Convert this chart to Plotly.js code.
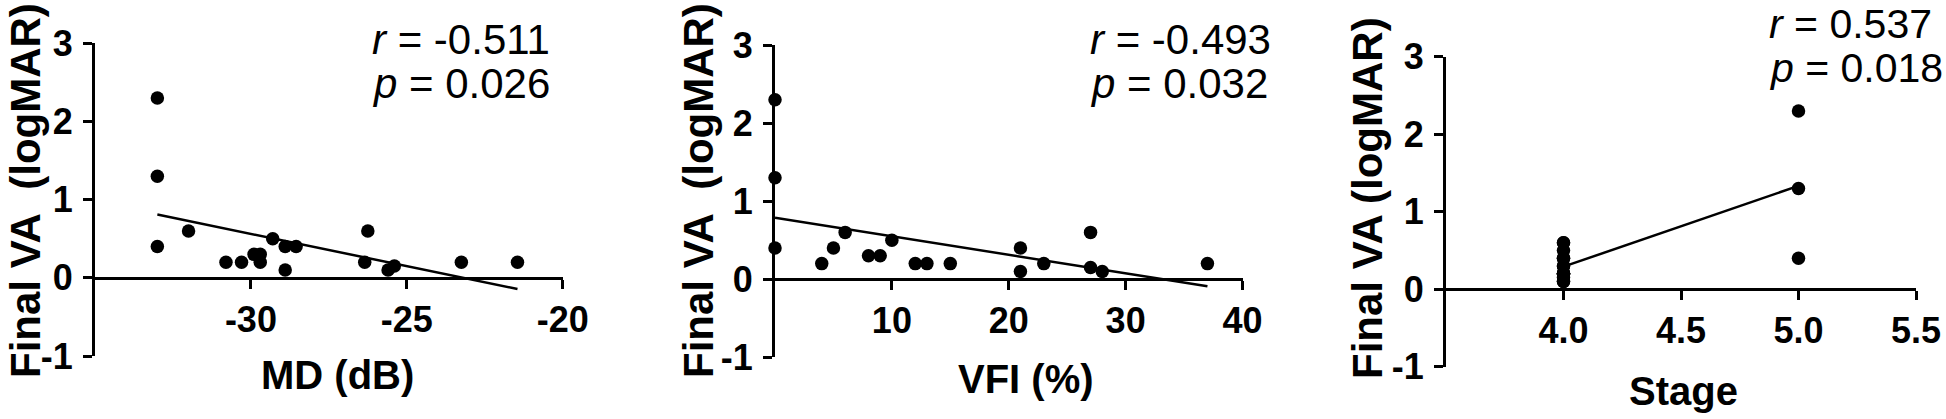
<!DOCTYPE html>
<html><head><meta charset="utf-8">
<script src="https://cdn.plot.ly/plotly-3.0.1.min.js"></script>
<style>html,body{margin:0;padding:0;background:#fff}#chart{width:1946px;height:419px}</style>
</head><body><div id="chart"></div>
<script>
// ---- data ----
const mdValues = [-33, -33, -33, -32, -30.8, -30.3, -29.9, -29.7, -29.7, -29.3, -28.9, -28.9, -28.55, -26.25, -26.35, -25.6, -25.4, -23.25, -21.45];
const vaByMD   = [2.3, 1.3, 0.4, 0.6, 0.2, 0.2, 0.3, 0.3, 0.2, 0.5, 0.4, 0.1, 0.4, 0.6, 0.2, 0.1, 0.15, 0.2, 0.2];

const vfiValues = [0, 0, 0, 4, 5, 6, 8, 9, 10, 12, 13, 15, 21, 21, 23, 27, 27, 28, 37];
const vaByVFI   = [2.3, 1.3, 0.4, 0.2, 0.4, 0.6, 0.3, 0.3, 0.5, 0.2, 0.2, 0.2, 0.4, 0.1, 0.2, 0.6, 0.15, 0.1, 0.2];

const stageValues = [5, 5, 5, 4, 4, 4, 4, 4, 4, 4, 4, 4, 4, 4, 4, 4, 4, 4, 4];
const vaByStage   = [2.3, 1.3, 0.4, 0.6, 0.2, 0.2, 0.3, 0.3, 0.2, 0.5, 0.4, 0.1, 0.4, 0.6, 0.2, 0.1, 0.15, 0.2, 0.2];

const yTickVals   = [-1, 0, 1, 2, 3];
const yTickLabels = ['-1', '0', '1', '2', '3'];
const mdTickVals = [-30, -25, -20];
const mdTickLabels = ['-30', '-25', '-20'];
const vfiTickVals = [10, 20, 30, 40];
const vfiTickLabels = ['10', '20', '30', '40'];
const stageTickVals = [4, 4.5, 5, 5.5];
const stageTickLabels = ['4.0', '4.5', '5.0', '5.5'];

const yTitle1 = 'Final VA\u00a0\u00a0(logMAR)';
const yTitle3 = 'Final VA (logMAR)';
const xTitles = ['MD (dB)', 'VFI (%)', 'Stage'];
const rTexts = ['<i>r</i> = -0.511', '<i>r</i> = -0.493', '<i>r</i> = 0.537'];
const pTexts = ['<i>p</i> = 0.026', '<i>p</i> = 0.032', '<i>p</i> = 0.018'];

// ---- layout helpers ----
const W = 1946, H = 419;
const FONT = 'Arial, "Liberation Sans", Helvetica, sans-serif';
const fx = px => px / W;
const fy = py => 1 - py / H;

function fit(xs, ys) {
  const n = xs.length;
  const mx = xs.reduce((a, b) => a + b, 0) / n;
  const my = ys.reduce((a, b) => a + b, 0) / n;
  let sxy = 0, sxx = 0;
  for (let i = 0; i < n; i++) { sxy += (xs[i] - mx) * (ys[i] - my); sxx += (xs[i] - mx) ** 2; }
  const b = sxy / sxx, a = my - b * mx;
  const x0 = Math.min(...xs), x1 = Math.max(...xs);
  return { x: [x0, x1], y: [a + b * x0, a + b * x1] };
}

const panels = [
  { xs: mdValues, ys: vaByMD, xr: [-35, -20], tv: mdTickVals, tt: mdTickLabels, px: [95, 562.7], py: [43.3, 356],
    yt: yTitle1, ytx: 25, yty: 191, xtx: 337.5, xty: 375, ax: 370, ry: 40, pyy: 84, sf: 42 },
  { xs: vfiValues, ys: vaByVFI, xr: [0, 40], tv: vfiTickVals, tt: vfiTickLabels, px: [775, 1242.5], py: [45, 357.3],
    yt: yTitle1, ytx: 698, yty: 191, xtx: 1026, xty: 379, ax: 1087.5, ry: 40, pyy: 84, sf: 42 },
  { xs: stageValues, ys: vaByStage, xr: [3.5, 5.5], tv: stageTickVals, tt: stageTickLabels, px: [1446, 1916], py: [56.7, 366.7],
    yt: yTitle3, ytx: 1367, yty: 198, xtx: 1683, xty: 391, ax: 1767, ry: 24, pyy: 68, sf: 41 }
];

const data = [];
const layout = {
  width: W, height: H,
  margin: { l: 0, r: 0, t: 0, b: 0, pad: 0 },
  paper_bgcolor: '#ffffff', plot_bgcolor: 'rgba(0,0,0,0)',
  showlegend: false,
  font: { family: FONT, color: '#000000' },
  annotations: []
};

panels.forEach((p, i) => {
  const k = i === 0 ? '' : String(i + 1);
  const xa = 'x' + k, ya = 'y' + k;
  const line = fit(p.xs, p.ys);
  data.push({ x: line.x, y: line.y, xaxis: xa, yaxis: ya, mode: 'lines', type: 'scatter',
    line: { color: '#000000', width: 2.5 }, cliponaxis: false, hoverinfo: 'skip' });
  data.push({ x: p.xs, y: p.ys, xaxis: xa, yaxis: ya, mode: 'markers', type: 'scatter',
    marker: { color: '#000000', size: 13.5 }, cliponaxis: false });

  const zeroPy = p.py[1] - (p.py[1] - p.py[0]) / 4;
  layout['xaxis' + k] = {
    domain: [fx(p.px[0]), fx(p.px[1])], range: p.xr, anchor: 'free', position: fy(zeroPy),
    showline: true, linewidth: 3, linecolor: '#000', ticks: 'outside', ticklen: 9, tickwidth: 3, tickcolor: '#000',
    tickvals: p.tv, ticktext: p.tt, tickfont: { family: FONT, size: 36, weight: 'bold', color: '#000' },
    showgrid: false, zeroline: false, fixedrange: true
  };
  layout['yaxis' + k] = {
    domain: [fy(p.py[1]), fy(p.py[0])], range: [-1, 3], anchor: xa,
    showline: true, linewidth: 3, linecolor: '#000', ticks: 'outside', ticklen: 9, tickwidth: 3, tickcolor: '#000',
    tickvals: yTickVals, ticktext: yTickLabels, tickfont: { family: FONT, size: 36, weight: 'bold', color: '#000' },
    showgrid: false, zeroline: false, fixedrange: true, ticklabelstandoff: 3
  };

  layout.annotations.push(
    { text: p.yt, xref: 'paper', yref: 'paper', x: fx(p.ytx), y: fy(p.yty), xanchor: 'center', yanchor: 'middle',
      textangle: -90, showarrow: false, font: { family: FONT, size: 42, weight: 'bold', color: '#000' } },
    { text: xTitles[i], xref: 'paper', yref: 'paper', x: fx(p.xtx), y: fy(p.xty), xanchor: 'center', yanchor: 'middle',
      showarrow: false, font: { family: FONT, size: 40, weight: 'bold', color: '#000' } },
    { text: rTexts[i], xref: 'paper', yref: 'paper', x: fx(p.ax), y: fy(p.ry), xanchor: 'left', yanchor: 'middle',
      showarrow: false, font: { family: FONT, size: p.sf, color: '#000' } },
    { text: pTexts[i], xref: 'paper', yref: 'paper', x: fx(p.ax), y: fy(p.pyy), xanchor: 'left', yanchor: 'middle',
      showarrow: false, font: { family: FONT, size: p.sf, color: '#000' } }
  );
});

Plotly.newPlot('chart', data, layout, { displayModeBar: false, staticPlot: true });
</script>
</body></html>
